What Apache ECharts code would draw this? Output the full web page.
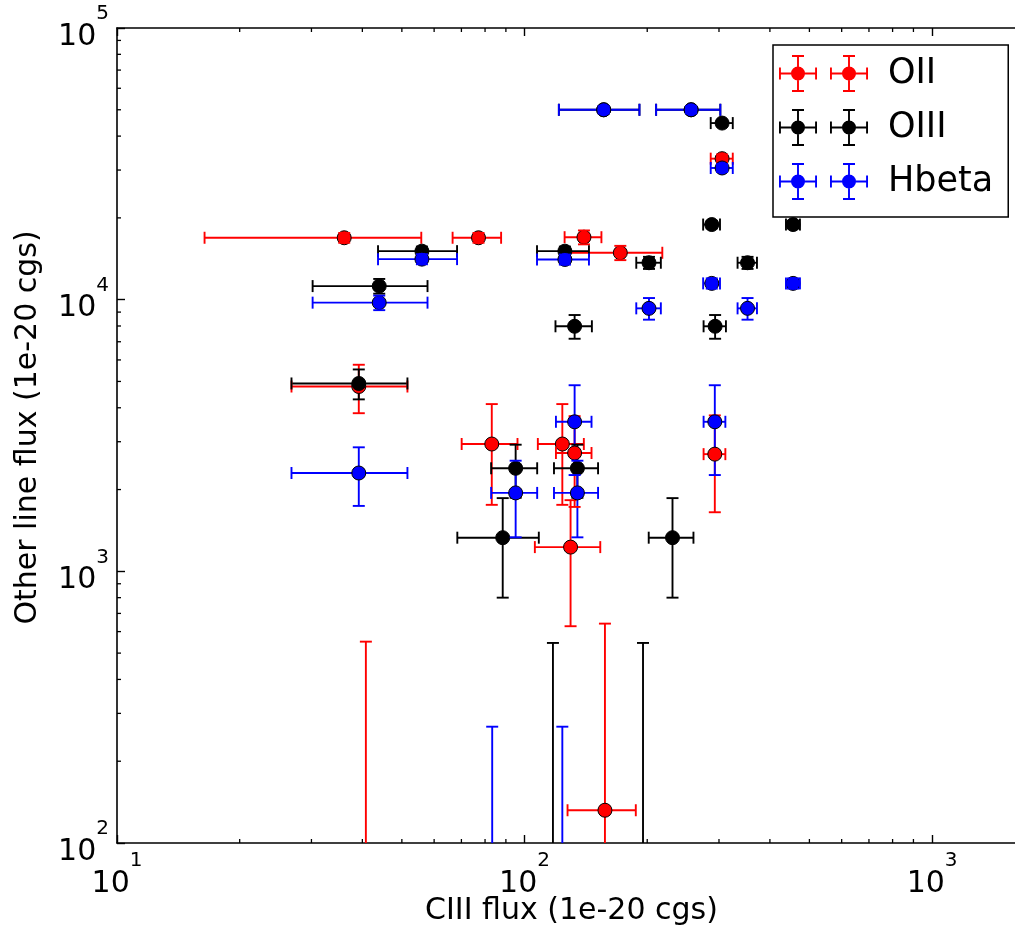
<!DOCTYPE html>
<html><head><meta charset="utf-8">
<script src="https://cdn.jsdelivr.net/npm/echarts@6/dist/echarts.min.js"></script>
<style>html,body{margin:0;padding:0;background:#fff}#c{width:1015px;height:926px}</style>
</head><body><div id="c"></div>
<script>
// ---- axis ranges and ticks ----
const X_MIN = 10, X_MAX = 1700, Y_MIN = 100, Y_MAX = 100000;
const X_MAJOR = [10, 100, 1000];
const Y_MAJOR = [100, 1000, 10000, 100000];
const X_MINOR = [20,30,40,50,60,70,80,90,200,300,400,500,600,700,800,900];
const Y_MINOR = [200,300,400,500,600,700,800,900,2000,3000,4000,5000,6000,7000,8000,9000,20000,30000,40000,50000,60000,70000,80000,90000];
const X_NAME = 'CIII flux (1e-20 cgs)';
const Y_NAME = 'Other line flux (1e-20 cgs)';

// ---- OII (red) ----
const OII_X    = [36.1, 77.1, 139.9, 171.8, 305.3, 39.2, 83.1, 123.8, 132.7, 129.7, 293.0, 157.5, 40.8];
const OII_XERR = [19.7, 10.5, 14.5, 46.0, 19.0, 12.4, 13.0, 16.0, 13.3, 23.7, 18.0, 30.0, 10.0];
const OII_Y    = [16900, 16900, 16980, 14880, 33040, 4790, 2942, 2942, 2726, 1228, 2700, 132, 0];
const OII_YERR = [700, 700, 1000, 900, 1200, 970, 1185, 1185, 1000, 600, 1050, 510, 551];

// ---- OIII (black) ----
const OIII_X    = [305.3, 288.0, 456.0, 125.6, 202.0, 352.5, 132.7, 293.5, 56.0, 44.0, 39.2, 95.1, 134.8, 88.4, 230.7, 117.4, 195.3, 156.4, 256.3];
const OIII_XERR = [19.0, 13.7, 18.0, 18.3, 14.0, 19.3, 13.6, 18.5, 12.3, 13.8, 12.4, 12.3, 16.7, 20.0, 29.0, 10.0, 10.0, 35.0, 46.0];
const OIII_Y    = [44670, 18900, 18900, 15085, 13675, 13675, 7980, 7980, 15085, 11220, 4915, 2395, 2395, 1330, 1330, 0, 0, 50000, 50000];
const OIII_YERR = [1000, 600, 600, 600, 700, 700, 800, 800, 600, 700, 620, 530, 530, 530, 530, 545, 545, 1500, 1500];

// ---- Hbeta (blue) ----
const HB_X    = [156.4, 256.3, 305.3, 288.0, 456.0, 202.0, 352.5, 125.6, 56.0, 44.0, 39.2, 132.7, 293.0, 95.1, 134.8, 83.3, 123.8];
const HB_XERR = [35.0, 46.0, 19.0, 13.7, 18.0, 14.0, 19.3, 18.3, 12.3, 13.8, 12.4, 13.3, 18.0, 12.3, 16.7, 10.0, 10.0];
const HB_Y    = [50000, 50000, 30530, 11480, 11480, 9290, 9290, 14060, 14100, 9750, 2301, 3552, 3552, 1944, 1944, 0, 0];
const HB_YERR = [1500, 1500, 1000, 500, 500, 850, 850, 600, 600, 600, 560, 1290, 1290, 610, 610, 268, 268];

const SERIES = [
  {name: 'OII',   color: '#ff0000', x: OII_X,  xe: OII_XERR,  y: OII_Y,  ye: OII_YERR},
  {name: 'OIII',  color: '#000000', x: OIII_X, xe: OIII_XERR, y: OIII_Y, ye: OIII_YERR},
  {name: 'Hbeta', color: '#0000ff', x: HB_X,   xe: HB_XERR,   y: HB_Y,   ye: HB_YERR}
];

const FONT = 'DejaVu Sans';
const CAP = 6, MR = 7, LW = 1.9;

function clipOf(params) {
  const c = params.coordSys;
  return {type: 'rect', shape: {x: c.x, y: c.y, width: c.width, height: c.height}};
}
function geom(params, api) {
  const x = api.value(0), dx = api.value(1), y = api.value(2), dy = api.value(3);
  const cs = params.coordSys;
  const g = {valid: y > 0};
  g.cx = api.coord([x, Y_MIN])[0];
  g.top = api.coord([x, y + dy])[1];
  g.hasBot = (y - dy) > 0;
  g.bot = g.hasBot ? api.coord([x, y - dy])[1] : cs.y + cs.height + 40;
  if (g.valid) {
    g.cy = api.coord([x, y])[1];
    g.hasL = (x - dx) > 0;
    g.l = g.hasL ? api.coord([x - dx, y])[0] : cs.x - 40;
    g.r = api.coord([x + dx, y])[0];
  }
  return g;
}
function barsRenderer(color) {
  return function (params, api) {
    const g = geom(params, api);
    const style = {stroke: color, lineWidth: LW};
    const ch = [{type: 'line', shape: {x1: g.cx, y1: g.top, x2: g.cx, y2: g.bot}, style}];
    if (g.valid) ch.push({type: 'line', shape: {x1: g.l, y1: g.cy, x2: g.r, y2: g.cy}, style});
    return {type: 'group', children: ch, clipPath: clipOf(params)};
  };
}
function markerRenderer(color) {
  return function (params, api) {
    const g = geom(params, api);
    const ch = [];
    if (g.valid) ch.push({type: 'circle', shape: {cx: g.cx, cy: g.cy, r: MR}, style: {fill: color, stroke: '#000', lineWidth: 1}});
    return {type: 'group', children: ch, clipPath: clipOf(params)};
  };
}
function capsRenderer(color) {
  return function (params, api) {
    const g = geom(params, api);
    const style = {stroke: color, lineWidth: LW};
    const ch = [{type: 'line', shape: {x1: g.cx - CAP, y1: g.top, x2: g.cx + CAP, y2: g.top}, style}];
    if (g.hasBot) ch.push({type: 'line', shape: {x1: g.cx - CAP, y1: g.bot, x2: g.cx + CAP, y2: g.bot}, style});
    if (g.valid) {
      if (g.hasL) ch.push({type: 'line', shape: {x1: g.l, y1: g.cy - CAP, x2: g.l, y2: g.cy + CAP}, style});
      ch.push({type: 'line', shape: {x1: g.r, y1: g.cy - CAP, x2: g.r, y2: g.cy + CAP}, style});
    }
    return {type: 'group', children: ch, clipPath: clipOf(params)};
  };
}
function dataOf(s) { return s.x.map((v, i) => [v, s.xe[i], s.y[i], s.ye[i]]); }
function customSeries(s, renderer, z) {
  return {
    type: 'custom', name: s.name, coordinateSystem: 'cartesian2d',
    xAxisIndex: 0, yAxisIndex: 0,
    itemStyle: {color: s.color},
    encode: {x: 0, y: 2},
    clip: true, silent: true, z: z,
    renderItem: renderer(s.color),
    data: dataOf(s)
  };
}

// legend glyph: two errorbar symbols side by side
function glyph(gx) {
  const c = 18.5;
  const r = (x1, y1, x2, y2) => `M${x1} ${y1}H${x2}V${y2}H${x1}Z`;
  return r(gx - 19, c - 0.95, gx + 19, c + 0.95) +
    r(gx - 19, c - 6, gx - 17.1, c + 6) + r(gx + 17.1, c - 6, gx + 19, c + 6) +
    r(gx - 0.95, 0, gx + 0.95, 37) +
    r(gx - 6, 0, gx + 6, 1.9) + r(gx - 6, 35.1, gx + 6, 37) +
    `M${gx - 7} ${c}A7 7 0 1 1 ${gx + 7} ${c}A7 7 0 1 1 ${gx - 7} ${c}Z`;
}
const ICON = 'path://' + glyph(19) + glyph(70);

// minor ticks (bottom/top for x, left for y)
function xMinorRender(params, api) {
  const cs = params.coordSys;
  const px = api.coord([api.value(0), Y_MIN])[0];
  const st = {stroke: '#000', lineWidth: 1.3};
  const b = cs.y + cs.height;
  return {type: 'group', children: [
    {type: 'line', shape: {x1: px, y1: b, x2: px, y2: b - 4}, style: st},
    {type: 'line', shape: {x1: px, y1: cs.y, x2: px, y2: cs.y + 4}, style: st}
  ]};
}
function yMinorRender(params, api) {
  const cs = params.coordSys;
  const py = api.coord([X_MIN, api.value(1)])[1];
  const st = {stroke: '#000', lineWidth: 1.3};
  return {type: 'line', shape: {x1: cs.x, y1: py, x2: cs.x + 4, y2: py}, style: st};
}

const rich = {
  b: {fontSize: 30, fontFamily: FONT, color: '#000', lineHeight: 48, verticalAlign: 'bottom'},
  s: {fontSize: 20, fontFamily: FONT, color: '#000', lineHeight: 20, verticalAlign: 'top'}
};
function expFmt(list) {
  return function (v) {
    if (!list.some(t => Math.abs(t - v) / t < 1e-6)) return '';
    return '{b|10}{s|' + Math.round(Math.log10(v)) + '}';
  };
}
const axisLine = {show: true, onZero: false, lineStyle: {color: '#000', width: 1.6}};
const axisTick = {show: true, inside: true, length: 8, lineStyle: {color: '#000', width: 1.4}};

const series = [];
SERIES.forEach(s => series.push(customSeries(s, barsRenderer, 2)));
SERIES.forEach(s => {
  series.push(customSeries(s, markerRenderer, 3));
  series.push(customSeries(s, capsRenderer, 3));
});
series.push({type: 'custom', coordinateSystem: 'cartesian2d', silent: true, z: 5, encode: {x: 0, y: 1},
  renderItem: xMinorRender, data: X_MINOR.map(v => [v, Y_MIN])});
series.push({type: 'custom', coordinateSystem: 'cartesian2d', silent: true, z: 5, encode: {x: 0, y: 1},
  renderItem: yMinorRender, data: Y_MINOR.map(v => [X_MIN, v])});

const option = {
  animation: false,
  backgroundColor: '#fff',
  grid: {left: 117, top: 28, width: 909, height: 815, containLabel: false, outerBoundsMode: 'none'},
  xAxis: [
    {type: 'log', logBase: 10, min: X_MIN, max: X_MAX, position: 'bottom',
      axisLine, axisTick, splitLine: {show: false}, minorTick: {show: false},
      axisLabel: {margin: 8, formatter: expFmt(X_MAJOR), rich, showMaxLabel: false, hideOverlap: false},
      name: X_NAME, nameLocation: 'middle', nameGap: 53, nameMoveOverlap: false,
      nameTextStyle: {fontFamily: FONT, fontSize: 30, color: '#000'}},
    {type: 'log', logBase: 10, min: X_MIN, max: X_MAX, position: 'top',
      axisLine, axisTick, splitLine: {show: false}, axisLabel: {show: false}}
  ],
  yAxis: [
    {type: 'log', logBase: 10, min: Y_MIN, max: Y_MAX, position: 'left',
      axisLine, axisTick, splitLine: {show: false},
      axisLabel: {margin: 8, formatter: expFmt(Y_MAJOR), rich, hideOverlap: false},
      name: Y_NAME, nameLocation: 'middle', nameRotate: 90, nameGap: 74, nameMoveOverlap: false,
      nameTextStyle: {fontFamily: FONT, fontSize: 30, color: '#000', padding: [0, 0, 0, 16]}}
  ],
  legend: {
    orient: 'vertical', left: 773, top: 45,
    padding: [10, 15, 17, 6], itemGap: 17, itemWidth: 89, itemHeight: 37,
    backgroundColor: '#fff', borderColor: '#000', borderWidth: 1.5, borderRadius: 0,
    selectedMode: false,
    itemStyle: {borderWidth: 0},
    textStyle: {fontFamily: FONT, fontSize: 35, color: '#000', lineHeight: 37, padding: [0, 0, 0, 15]},
    data: SERIES.map(s => ({name: s.name, icon: ICON}))
  },
  series
};
const chart = echarts.init(document.getElementById('c'), null, {renderer: 'canvas'});
chart.setOption(option);
</script></body></html>
